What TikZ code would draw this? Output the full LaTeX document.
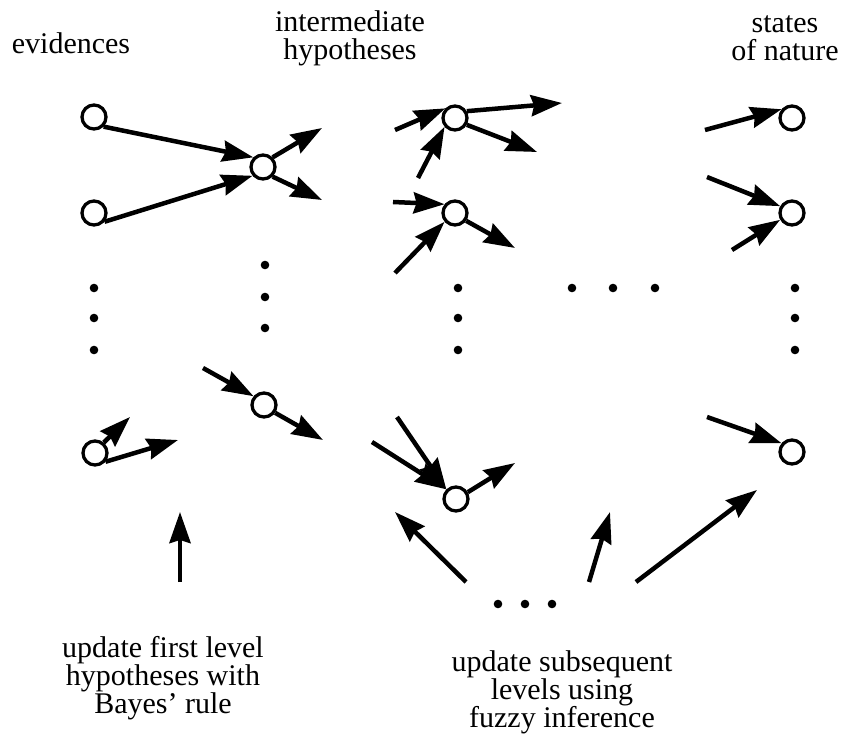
\documentclass[tikz,border=0pt]{standalone}
\usepackage{fontspec}
\setmainfont{Liberation Serif}
\usetikzlibrary{arrows.meta}

\tikzset{
  unit/.style={draw, circle, line width=3.3pt, minimum size=24pt, inner sep=0pt},
  arr/.style={line width=4.5pt, -{Stealth[length=31pt,width=21pt,inset=3pt]}},
  lbl/.style={align=center, font=\fontsize{30}{28}\selectfont},
}

\begin{document}
\begin{tikzpicture}[x=1pt,y=-1pt]
\useasboundingbox (0,0) rectangle (847,751);

\node[lbl] (ev) at (71,43) {evidences};
\node[lbl] (ih) at (350,38) {intermediate\\hypotheses};
\node[lbl] (sn) at (785,38) {states\\of nature};

\node[unit] (E1) at (94,117) {};
\node[unit] (E2) at (94,213) {};
\node[unit] (E3) at (95,453) {};
\node[unit] (H1) at (263,167) {};
\node[unit] (H2) at (264,405) {};
\node[unit] (I1) at (455,118) {};
\node[unit] (I2) at (455,213) {};
\node[unit] (I3) at (456,499) {};
\node[unit] (S1) at (792,118) {};
\node[unit] (S2) at (792,213) {};
\node[unit] (S3) at (792,452) {};

\coordinate (h1a) at (322,128);
\coordinate (h1b) at (322,200);
\coordinate (i1a) at (395,130);
\coordinate (i1b) at (418,178);
\coordinate (i1c) at (562,103);
\coordinate (i1d) at (537,152);
\coordinate (i2a) at (393,202);
\coordinate (i2b) at (395,273);
\coordinate (i2c) at (515,248);
\coordinate (s1a) at (705,130);
\coordinate (s2a) at (707,177);
\coordinate (s2b) at (732,250);
\coordinate (e3a) at (130,417);
\coordinate (e3b) at (178,440);
\coordinate (h2a) at (203,368);
\coordinate (h2b) at (323,440);
\coordinate (i3a) at (372,442);
\coordinate (i3b) at (397,417);
\coordinate (i3c) at (515,463);
\coordinate (s3a) at (707,417);

\draw[arr] (E1.-45) -- (H1.135);
\draw[arr] (E2.-40) -- (H1.-140);
\draw[arr] (H1.45) -- (h1a);
\draw[arr] (H1.-45) -- (h1b);
\draw[arr] (i1a) -- (I1.135);
\draw[arr] (i1b) -- (I1.-140);
\draw[arr] (I1.30) -- (i1c);
\draw[arr] (I1.-30) -- (i1d);
\draw[arr] (i2a) -- (I2.140);
\draw[arr] (i2b) -- (I2.-140);
\draw[arr] (I2.-35) -- (i2c);
\draw[arr] (s1a) -- (S1.140);
\draw[arr] (s2a) -- (S2.150);
\draw[arr] (s2b) -- (S2.-150);
\draw[arr] (E3.50) -- (e3a);
\draw[arr] (E3.-40) -- (e3b);
\draw[arr] (h2a) -- (H2.140);
\draw[arr] (H2.-35) -- (h2b);
\draw[arr] (i3a) -- (I3.135);
\draw[arr] (i3b) -- (I3.135);
\draw[arr] (I3.30) -- (i3c);
\draw[arr] (s3a) -- (S3.140);

% dots
\foreach \x/\y in {94/288,94/318,94/350, 265/265,265/297,265/328,
  458/288,458/318,458/350, 795/288,795/318,795/350,
  572/288,613/288,655/288, 498/604,525/604,552/604}
  \fill (\x,\y) circle (4.3);

\node[lbl] (bay) at (163,678) {update first level\\hypotheses with\\Bayes' rule};
\node[lbl] (fuz) at (562,692) {update subsequent\\levels using\\fuzzy inference};

\coordinate (b1) at (180,582);
\coordinate (b1t) at (180,512);
\coordinate (f1) at (466,582);
\coordinate (f1t) at (395,512);
\coordinate (f2) at (589,582);
\coordinate (f2t) at (610,512);
\coordinate (f3) at (636,582);
\coordinate (f3t) at (757,490);
\draw[arr] (b1) -- (b1t);
\draw[arr] (f1) -- (f1t);
\draw[arr] (f2) -- (f2t);
\draw[arr] (f3) -- (f3t);
\end{tikzpicture}
\end{document}
